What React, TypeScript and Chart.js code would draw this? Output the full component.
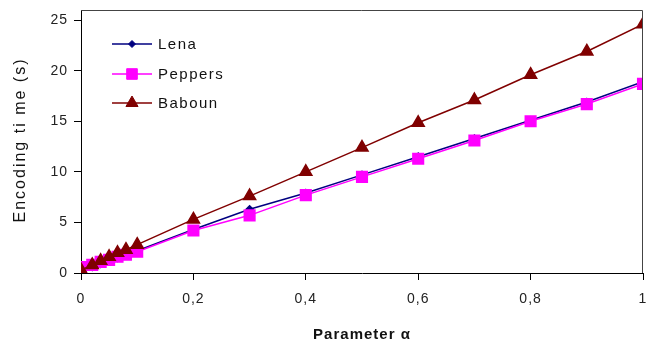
import React, { useEffect, useRef } from "react";
import { Chart, registerables } from "chart.js";
import { drawPoint } from "chart.js/helpers";

Chart.register(...registerables);

const alphaValues = [0, 0.02, 0.035, 0.05, 0.065, 0.08, 0.1, 0.2, 0.3, 0.4, 0.5, 0.6, 0.7, 0.8, 0.9, 1];
const lenaTimes = [0.4, 0.6, 0.9, 1.2, 1.5, 1.8, 2.2, 4.3, 6.3, 7.9, 9.7, 11.5, 13.3, 15.1, 16.9, 18.9];
const peppersTimes = [0.6, 0.8, 1.1, 1.3, 1.6, 1.8, 2.1, 4.2, 5.7, 7.7, 9.5, 11.3, 13.1, 15.0, 16.7, 18.7];
const babounTimes = [0.3, 0.8, 1.2, 1.6, 2.0, 2.3, 2.8, 5.3, 7.6, 10.0, 12.4, 14.85, 17.1, 19.6, 21.9, 24.6];
const seriesNames = ["Lena", "Peppers", "Baboun"];
const xTickValues = [0, 0.2, 0.4, 0.6, 0.8, 1];
const yTickValues = [0, 5, 10, 15, 20, 25];
const xTitle = "Parameter α";
const yTitle = "Encoding ti me (s)";

const FONT = "'Liberation Sans', Arial, sans-serif";

const toPoints = (ys: number[]) => ys.map((y, i) => ({ x: alphaValues[i], y }));

const spacingPlugin = {
  id: "spacing",
  beforeUpdate(chart: any) {
    chart.ctx.letterSpacing = "1px";
  },
  beforeDraw(chart: any) {
    chart.ctx.letterSpacing = "1px";
  },
};

const framePlugin = {
  id: "frame",
  afterDatasetsDraw(chart: any) {
    const { ctx, chartArea } = chart;
    ctx.save();
    ctx.strokeStyle = "#444";
    ctx.lineWidth = 1;
    ctx.beginPath();
    ctx.moveTo(chartArea.left, chartArea.top + 0.5);
    ctx.lineTo(Math.round(chartArea.right) - 0.5, chartArea.top + 0.5);
    ctx.lineTo(Math.round(chartArea.right) - 0.5, chartArea.bottom);
    ctx.stroke();
    ctx.restore();
  },
};

const textPlugin = {
  id: "texts",
  afterDraw(chart: any) {
    const { ctx } = chart;
    ctx.save();
    ctx.letterSpacing = "2px";
    ctx.fillStyle = "#111";
    ctx.font = `16px ${FONT}`;
    ctx.textAlign = "center";
    ctx.textBaseline = "middle";
    ctx.translate(21, 140);
    ctx.rotate(-Math.PI / 2);
    ctx.fillText(yTitle, 0, 0);
    ctx.restore();

    const x0 = 112;
    const x1 = 152;
    const rows = [44, 74, 103];
    ctx.save();
    chart.data.datasets.forEach((ds: any, i: number) => {
      const y = rows[i];
      ctx.strokeStyle = ds.borderColor;
      ctx.lineWidth = 1.5;
      ctx.beginPath();
      ctx.moveTo(x0, y);
      ctx.lineTo(x1, y);
      ctx.stroke();
      ctx.fillStyle = ds.pointBackgroundColor;
      ctx.strokeStyle = ds.pointBorderColor;
      ctx.lineWidth = 1;
      drawPoint(ctx, { pointStyle: ds.pointStyle, radius: ds.pointRadius, borderWidth: 1, rotation: 0 }, (x0 + x1) / 2, y);
      ctx.letterSpacing = "1.5px";
      ctx.fillStyle = "#111";
      ctx.font = `15px ${FONT}`;
      ctx.textBaseline = "middle";
      ctx.textAlign = "left";
      ctx.fillText(ds.label, 158, y + 1);
    });
    ctx.restore();
  },
};

export default function App() {
  const ref = useRef<HTMLCanvasElement | null>(null);

  useEffect(() => {
    document.body.style.margin = "0";
    const canvas = ref.current;
    if (!canvas) return;
    const chart = new Chart(canvas, {
      type: "line",
      data: {
        datasets: [
          {
            label: seriesNames[0],
            data: toPoints(lenaTimes),
            borderColor: "#000080",
            backgroundColor: "#000080",
            pointBackgroundColor: "#000080",
            pointBorderColor: "#000080",
            pointStyle: "rectRot",
            pointRadius: 3.5,
            borderWidth: 1.5,
            order: 3,
          },
          {
            label: seriesNames[1],
            data: toPoints(peppersTimes),
            borderColor: "#FF00FF",
            backgroundColor: "#FF00FF",
            pointBackgroundColor: "#FF00FF",
            pointBorderColor: "#FF00FF",
            pointStyle: "rect",
            pointRadius: 7.5,
            borderWidth: 1.5,
            order: 2,
          },
          {
            label: seriesNames[2],
            data: toPoints(babounTimes),
            borderColor: "#800000",
            backgroundColor: "#800000",
            pointBackgroundColor: "#800000",
            pointBorderColor: "#800000",
            pointStyle: "triangle",
            pointRadius: 7,
            borderWidth: 1.5,
            order: 1,
          },
        ] as any,
      },
      options: {
        animation: false,
        responsive: false,
        maintainAspectRatio: false,
        layout: { autoPadding: false, padding: { top: 10, right: 3, left: 0, bottom: 0 } },
        plugins: { legend: { display: false }, tooltip: { enabled: false } },
        elements: { line: { tension: 0 } },
        scales: {
          x: {
            type: "linear",
            min: 0,
            max: 1,
            afterBuildTicks: (s: any) => {
              s.ticks = xTickValues.map((v) => ({ value: v }));
            },
            afterFit: (s: any) => {
              s.height = 76;
              s.paddingRight = 0;
              s.paddingLeft = 0;
            },
            ticks: {
              color: "#222",
              font: { family: FONT, size: 14 },
              padding: 11,
              maxRotation: 0,
              callback: (v: any) => String(Number(v).toFixed(v === 0 || v === 1 ? 0 : 1)).replace(".", ","),
            },
            grid: { drawOnChartArea: false, drawTicks: true, tickLength: 7, color: "#000", tickColor: "#000" },
            border: { color: "#000", width: 1 },
            title: {
              display: true,
              text: xTitle,
              color: "#111",
              font: { family: FONT, size: 15, weight: "bold" },
              padding: { top: 4, bottom: 5 },
            },
          },
          y: {
            type: "linear",
            min: 0,
            max: 26,
            afterBuildTicks: (s: any) => {
              s.ticks = yTickValues.map((v) => ({ value: v }));
            },
            afterFit: (s: any) => {
              s.width = 81;
              s.paddingTop = 0;
              s.paddingBottom = 0;
            },
            ticks: {
              color: "#222",
              font: { family: FONT, size: 14 },
              padding: 6,
            },
            grid: { drawOnChartArea: false, drawTicks: true, tickLength: 7, color: "#000", tickColor: "#000" },
            border: { color: "#000", width: 1 },
            title: { display: false },
          },
        },
      } as any,
      plugins: [spacingPlugin, framePlugin, textPlugin],
    });
    return () => chart.destroy();
  }, []);

  return <canvas ref={ref} width={646} height={349} style={{ display: "block", width: 646, height: 349 }} />;
}
